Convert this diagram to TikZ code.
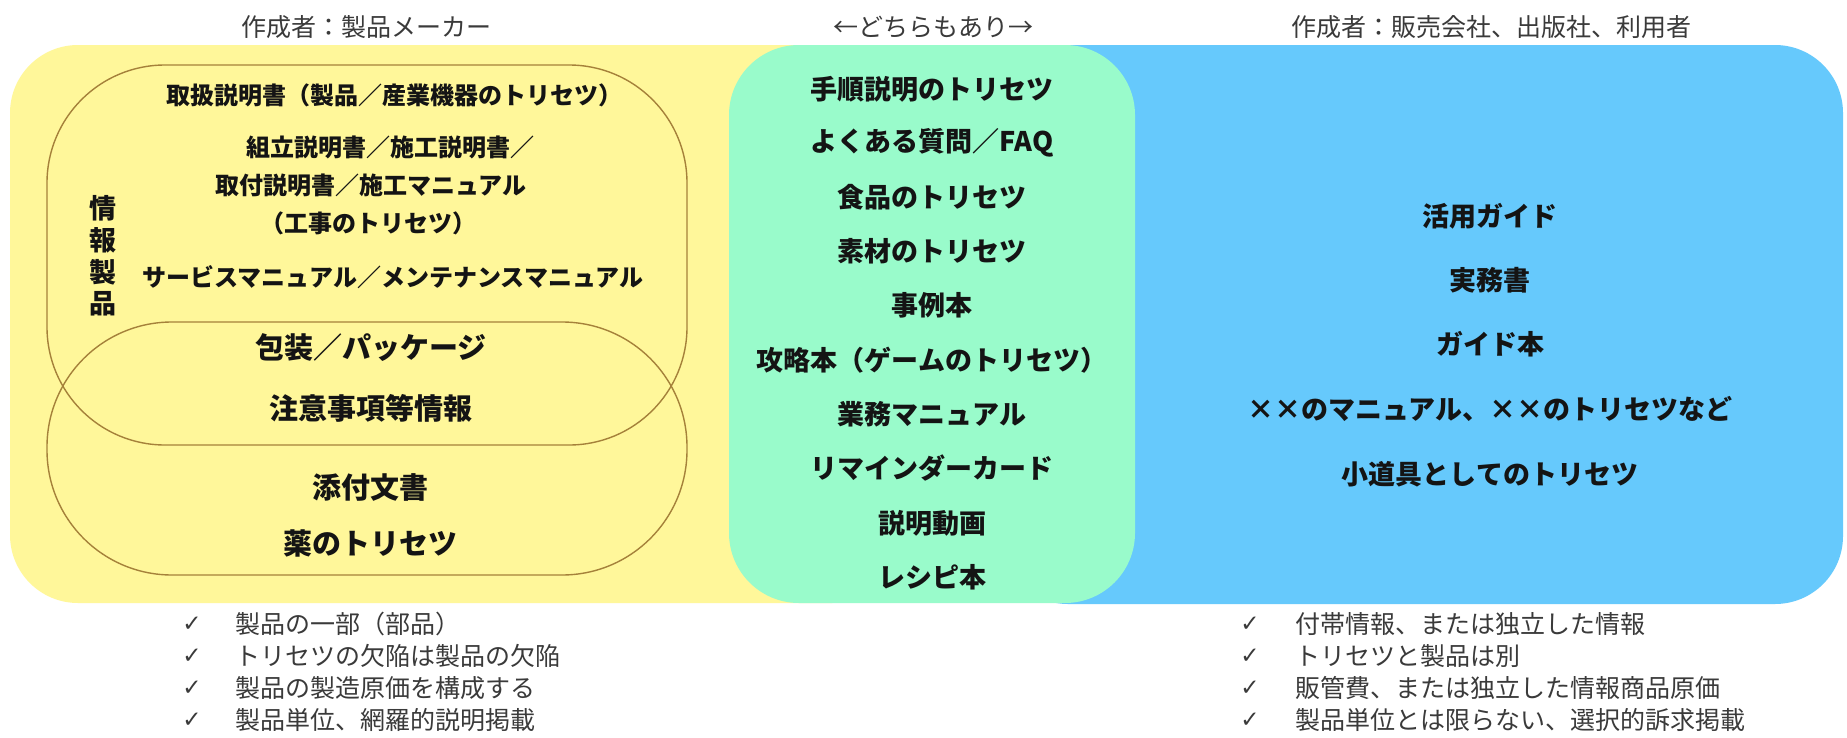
\documentclass[tikz,border=0pt]{standalone}
\usepackage{fontspec}
\newfontfamily\jp{Noto Sans CJK JP}
\newfontfamily\sym{DejaVu Sans}
\definecolor{yel}{HTML}{FFF79A}
\definecolor{grn}{HTML}{99FBCB}
\definecolor{blu}{HTML}{66C9FC}
\definecolor{outl}{HTML}{A5813A}
\definecolor{hdrc}{HTML}{3A3A3A}
\definecolor{ink}{HTML}{141414}
\begin{document}
\begin{tikzpicture}[x=1pt,y=-1pt,
  hdr/.style={font=\jp\fontsize{25}{30}\selectfont, text=hdrc, inner sep=0pt},
  itemS/.style={font=\jp\bfseries\fontsize{24}{30}\selectfont, text=ink, inner sep=0pt},
  itemL/.style={font=\jp\bfseries\fontsize{29}{34}\selectfont, text=ink, inner sep=0pt},
  itemG/.style={font=\jp\bfseries\fontsize{27}{32}\selectfont, text=ink, inner sep=0pt},
  itemV/.style={font=\jp\bfseries\fontsize{27}{31.7}\selectfont, text=ink, inner sep=0pt, align=center},
  note/.style={font=\jp\fontsize{25}{28}\selectfont, text=hdrc, inner sep=0pt, anchor=west},
  chk/.style={font=\sym\fontsize{23}{25}\selectfont, text=hdrc, inner sep=0pt},
  frame/.style={draw=outl, line width=1.4pt},
]
\useasboundingbox (0,0) rectangle (1847,737);
\fill[white] (0,0) rectangle (1847,737);
% background panels
\fill[yel, rounded corners=68pt] (10,45) rectangle (900,603);
\fill[blu, rounded corners=68pt] (1000,45) rectangle (1843,604);
\fill[grn, rounded corners=70pt] (729,45) rectangle (1135,603);
% outlines in yellow panel
\draw[frame, rounded corners=118pt] (47,65) rectangle (687,445);
\draw[frame, rounded corners=125pt] (47,322) rectangle (687,575);
% headers
\node[hdr] (h1) at (366,27) {作成者：製品メーカー};
\node[hdr] (h2) at (933,27) {←どちらもあり→};
\node[hdr] (h3) at (1491,27) {作成者：販売会社、出版社、利用者};
% left panel
\node[itemS] (a1) at (394,95) {取扱説明書（製品／産業機器のトリセツ）};
\node[itemS] (a2) at (390,147) {組立説明書／施工説明書／};
\node[itemS] (a3) at (371,185) {取付説明書／施工マニュアル};
\node[itemS] (a4) at (368,223) {（工事のトリセツ）};
\node[itemS] (a5) at (393,277) {サービスマニュアル／メンテナンスマニュアル};
\node[itemV] (v) at (103,256) {情\\報\\製\\品};
\node[itemL] (b1) at (371,348) {包装／パッケージ};
\node[itemL] (b2) at (371,408) {注意事項等情報};
\node[itemL] (b3) at (370,487) {添付文書};
\node[itemL] (b4) at (370,543) {薬のトリセツ};
% middle panel
\node[itemG] (g1) at (932,89) {手順説明のトリセツ};
\node[itemG] (g2) at (932,143) {よくある質問／FAQ};
\node[itemG] (g3) at (932,197) {食品のトリセツ};
\node[itemG] (g4) at (932,251) {素材のトリセツ};
\node[itemG] (g5) at (932,305) {事例本};
\node[itemG] (g6) at (932,360) {攻略本（ゲームのトリセツ）};
\node[itemG] (g7) at (932,414) {業務マニュアル};
\node[itemG] (g8) at (932,468) {リマインダーカード};
\node[itemG] (g9) at (932,523) {説明動画};
\node[itemG] (g10) at (932,577) {レシピ本};
% right panel
\node[itemG] (r1) at (1490,216) {活用ガイド};
\node[itemG] (r2) at (1490,280) {実務書};
\node[itemG] (r3) at (1490,344) {ガイド本};
\node[itemG] (r4) at (1490,409) {××のマニュアル、××のトリセツなど};
\node[itemG] (r5) at (1490,474) {小道具としてのトリセツ};
% notes left
\node[chk] (c1) at (192,624) {✓};
\node[chk] (c2) at (192,656) {✓};
\node[chk] (c3) at (192,688) {✓};
\node[chk] (c4) at (192,720) {✓};
\node[note] (n1) at (235,624) {製品の一部（部品）};
\node[note] (n2) at (235,656) {トリセツの欠陥は製品の欠陥};
\node[note] (n3) at (235,688) {製品の製造原価を構成する};
\node[note] (n4) at (235,720) {製品単位、網羅的説明掲載};
% notes right
\node[chk] (d1) at (1250,624) {✓};
\node[chk] (d2) at (1250,656) {✓};
\node[chk] (d3) at (1250,688) {✓};
\node[chk] (d4) at (1250,720) {✓};
\node[note] (m1) at (1295,624) {付帯情報、または独立した情報};
\node[note] (m2) at (1295,656) {トリセツと製品は別};
\node[note] (m3) at (1295,688) {販管費、または独立した情報商品原価};
\node[note] (m4) at (1295,720) {製品単位とは限らない、選択的訴求掲載};
\end{tikzpicture}
\end{document}
